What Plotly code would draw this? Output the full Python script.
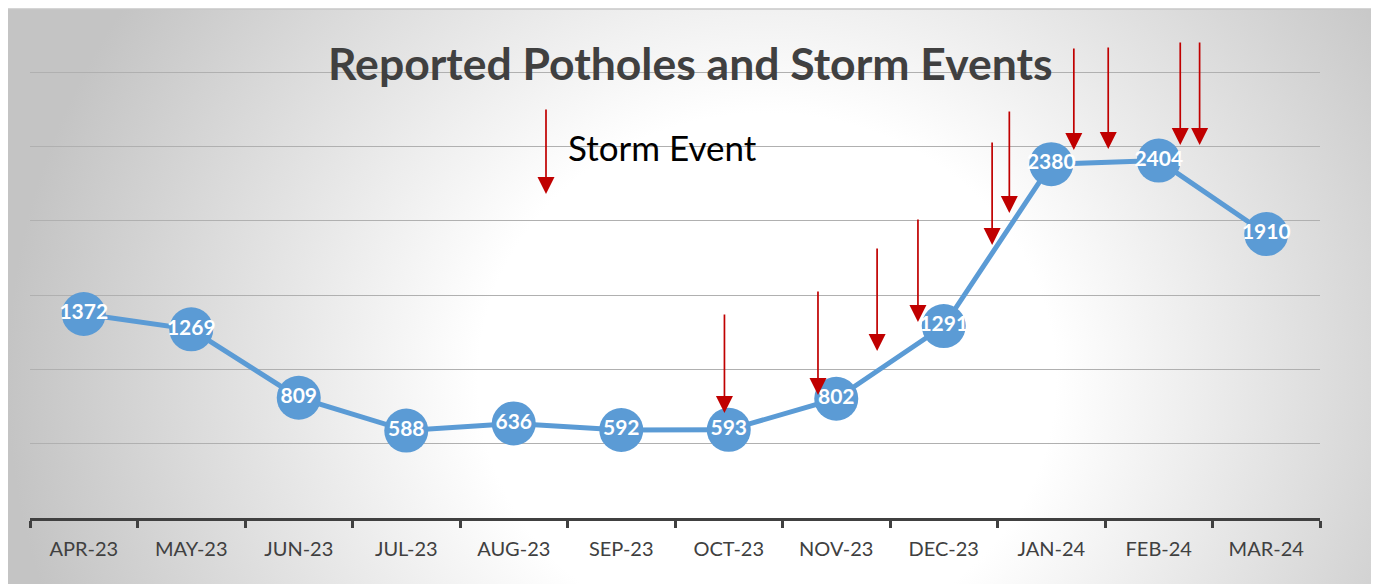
import base64
import plotly.graph_objects as go

months = ["APR-23", "MAY-23", "JUN-23", "JUL-23", "AUG-23", "SEP-23",
          "OCT-23", "NOV-23", "DEC-23", "JAN-24", "FEB-24", "MAR-24"]
potholes = [1372, 1269, 809, 588, 636, 592, 593, 802, 1291, 2380, 2404, 1910]

# storm events: position along the month axis (index), arrow tip value, arrow tail value
storm_x = [5.96, 6.83, 7.38, 7.76, 8.45, 8.61, 9.21, 9.53, 10.20, 10.38, 11.77]
storm_tip = [706, 827, 1123, 1318, 1836, 2051, 2475, 2482, 2509, 2509, 1957]
storm_top = [1379, 1534, 1823, 2018, 2536, 2744, 3168, 3175, 3208, 3208, 2657]

legend_x, legend_tip, legend_top = 4.30, 2179, 2758
legend_label_x, legend_label_y = 4.49, 2495

BLUE = "#5B9BD5"
RED = "#C00000"
FONT = "Lato"

OFF = 8  # page body margin
W, H = 1379 - OFF, 584 - OFF
L = 30 - OFF
R = W - (1320 - OFF)
T = 69 - OFF
B = H - (518 - OFF)
pw, ph = W - L - R, H - T - B
YTOP = 3000 * (518 - 69) / (518 - 72)

def px_x(p):
    return (p - OFF - L) / pw

def px_y(p):
    return (H - B - (p - OFF)) / ph

fw, fh = 1367, 600
svg = (
    f'<svg xmlns="http://www.w3.org/2000/svg" width="{fw}" height="{fh}" '
    f'preserveAspectRatio="none" viewBox="0 0 {fw} {fh}">'
    '<defs><radialGradient id="g" gradientUnits="userSpaceOnUse" cx="760" cy="370" r="760" '
    'gradientTransform="translate(760 370) scale(1 0.92) translate(-760 -370)">'
    '<stop offset="0" stop-color="#ffffff"/>'
    '<stop offset="0.38" stop-color="#ffffff"/>'
    '<stop offset="1" stop-color="#c4c4c4"/>'
    '</radialGradient></defs>'
    f'<rect x="0" y="0" width="{fw}" height="{fh}" fill="url(#g)"/></svg>'
)
src = "data:image/svg+xml;base64," + base64.b64encode(svg.encode()).decode()

fig = go.Figure()
fig.add_trace(go.Scatter(
    x=months, y=potholes,
    mode="lines+markers+text",
    line=dict(color=BLUE, width=5),
    marker=dict(color=BLUE, size=44),
    text=[str(v) for v in potholes],
    textposition="middle center",
    textfont=dict(color="white", size=21, family=FONT, weight="bold"),
    cliponaxis=False,
    showlegend=False,
    hoverinfo="skip",
))

annotations = []
for xv, tip, top in zip(storm_x, storm_tip, storm_top):
    annotations.append(dict(
        x=xv, y=tip, xref="x", yref="y",
        ax=xv, ay=top, axref="x", ayref="y",
        text="", showarrow=True, arrowhead=2, arrowsize=2.0,
        arrowwidth=1.7, arrowcolor=RED, standoff=0,
    ))
annotations.append(dict(
    x=legend_x, y=legend_tip, xref="x", yref="y",
    ax=legend_x, ay=legend_top, axref="x", ayref="y",
    text="", showarrow=True, arrowhead=2, arrowsize=2.0,
    arrowwidth=1.7, arrowcolor=RED, standoff=0,
))
annotations.append(dict(
    x=legend_label_x, y=legend_label_y, xref="x", yref="y",
    text="Storm Event", showarrow=False, xanchor="left", yanchor="middle",
    font=dict(family=FONT, size=35, color="#000000"),
))
annotations.append(dict(
    x=px_x(690), y=px_y(62), xref="paper", yref="paper",
    text="<b>Reported Potholes and Storm Events</b>", showarrow=False,
    xanchor="center", yanchor="middle",
    font=dict(family=FONT, size=44.5, color="#404040"),
))

fig.update_layout(
    width=W, height=H,
    margin=dict(l=L, r=R, t=T, b=B, pad=0),
    paper_bgcolor="white",
    plot_bgcolor="rgba(0,0,0,0)",
    font=dict(family=FONT),
    annotations=annotations,
    images=[dict(
        source=src, xref="paper", yref="paper",
        x=px_x(7), y=px_y(9), sizex=px_x(1374) - px_x(7), sizey=px_y(9) - px_y(609),
        xanchor="left", yanchor="top", sizing="stretch", layer="below",
    )],
    shapes=[dict(
        type="rect", xref="paper", yref="paper",
        x0=px_x(7), x1=px_x(1374), y0=px_y(609), y1=px_y(9),
        line=dict(color="#c8c8c8", width=1.5), fillcolor="rgba(0,0,0,0)", layer="below",
    )],
    xaxis=dict(
        type="category", range=[-0.5, 11.5],
        showline=True, linecolor="#404040", linewidth=3,
        ticks="outside", tickson="boundaries", ticklen=7, tickwidth=3, tickcolor="#404040",
        tickfont=dict(family=FONT, size=20, color="#404040"),
        ticklabelstandoff=11,
        showgrid=False, zeroline=False, fixedrange=True,
    ),
    yaxis=dict(
        range=[0, YTOP], tick0=0, dtick=500, showticklabels=False,
        showgrid=True, gridcolor="#b0b0b0", gridwidth=1.3,
        zeroline=False, showline=False, ticks="", fixedrange=True,
    ),
)

fig.write_html("out.html")
